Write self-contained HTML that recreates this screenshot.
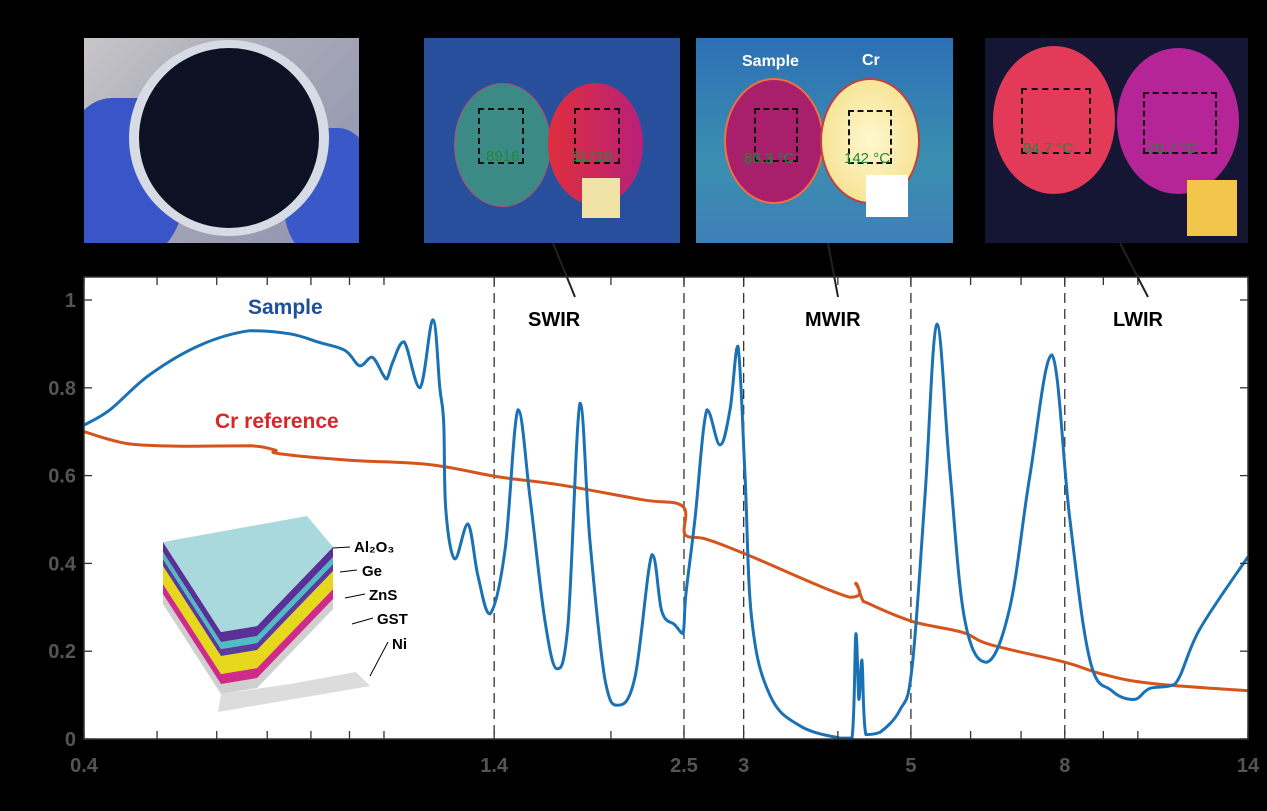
<!DOCTYPE html>
<html><head><meta charset="utf-8">
<style>
html,body{margin:0;padding:0;background:#000;}
#root{position:relative;width:1267px;height:811px;background:#000;overflow:hidden;font-family:"Liberation Sans",sans-serif;}
.ph{position:absolute;overflow:hidden;}
.circ{position:absolute;border-radius:50%;}
.box{position:absolute;border:2px dashed #111;}
.tmp{position:absolute;color:#1e8a3a;font-size:15px;}
</style></head>
<body>
<div id="root">
  <div class="ph" style="left:84px;top:38px;width:275px;height:205px;background:linear-gradient(135deg,#c8c6c8,#a9aab8 40%,#8e92ad);">
    <div style="position:absolute;left:-20px;top:60px;width:120px;height:160px;background:#3a55c8;border-radius:40%;"></div>
    <div style="position:absolute;left:200px;top:90px;width:90px;height:130px;background:#3b58c9;border-radius:40%;"></div>
    <div class="circ" style="left:45px;top:2px;width:200px;height:196px;background:#d6dbe4;"></div>
    <div class="circ" style="left:55px;top:10px;width:180px;height:180px;background:#0c1224;"></div>
  </div>
  <div class="ph" style="left:424px;top:38px;width:256px;height:205px;background:#284f9c;">
    <div class="circ" style="left:30px;top:45px;width:95px;height:122px;background:#3b8a86;border:1px solid #b05070;"></div>
    <div class="circ" style="left:124px;top:45px;width:95px;height:122px;background:linear-gradient(90deg,#e02e3c,#b8207a);"></div>
    <div class="box" style="left:54px;top:70px;width:42px;height:52px;"></div>
    <div class="box" style="left:150px;top:70px;width:42px;height:52px;"></div>
    <div class="tmp" style="left:62px;top:110px;">8916</div>
    <div class="tmp" style="left:148px;top:110px;">11710</div>
    <div style="position:absolute;left:158px;top:140px;width:38px;height:40px;background:#f1e2a6;"></div>
  </div>
  <div class="ph" style="left:696px;top:38px;width:257px;height:205px;background:linear-gradient(180deg,#2d6fb5,#3a8fb0 60%,#3f7fb8);">
    <div style="position:absolute;left:46px;top:15px;color:#fff;font-weight:bold;font-size:16px;">Sample</div>
    <div style="position:absolute;left:166px;top:14px;color:#fff;font-weight:bold;font-size:16px;">Cr</div>
    <div class="circ" style="left:28px;top:40px;width:96px;height:122px;background:#a8206c;border:2px solid #f07040;"></div>
    <div class="circ" style="left:124px;top:40px;width:96px;height:122px;background:radial-gradient(#fff8d0,#f4dc80);border:2px solid #c04040;"></div>
    <div class="box" style="left:58px;top:70px;width:40px;height:50px;"></div>
    <div class="box" style="left:152px;top:72px;width:40px;height:50px;"></div>
    <div class="tmp" style="left:48px;top:112px;">86.3 °C</div>
    <div class="tmp" style="left:148px;top:112px;">142 °C</div>
    <div style="position:absolute;left:170px;top:137px;width:42px;height:42px;background:#fff;"></div>
  </div>
  <div class="ph" style="left:985px;top:38px;width:263px;height:205px;background:#141633;">
    <div class="circ" style="left:8px;top:8px;width:122px;height:148px;background:#e23a58;"></div>
    <div class="circ" style="left:132px;top:10px;width:122px;height:146px;background:#b62598;"></div>
    <div class="box" style="left:36px;top:50px;width:66px;height:62px;"></div>
    <div class="box" style="left:158px;top:54px;width:70px;height:58px;"></div>
    <div class="tmp" style="left:38px;top:102px;">94.7 °C</div>
    <div class="tmp" style="left:162px;top:102px;">70.7 °C</div>
    <div style="position:absolute;left:202px;top:142px;width:50px;height:56px;background:#f2c64a;"></div>
  </div>
  <svg id="chart" width="1267" height="811" style="position:absolute;left:0;top:0;"></svg>
</div>
<script>
const sampleWl=[0.4,0.433,0.489,0.57,0.664,0.75,0.822,0.888,0.929,0.964,0.997,1.009,1.028,1.063,1.116,1.161,1.186,1.2,1.208,1.242,1.292,1.333,1.382,1.447,1.506,1.562,1.635,1.696,1.754,1.82,1.876,1.964,2.043,2.152,2.267,2.337,2.432,2.492,2.515,2.585,2.681,2.79,2.877,2.948,3.012,3.076,3.25,3.562,4.025,4.176,4.227,4.266,4.305,4.358,4.548,4.834,5.015,5.218,5.413,5.632,5.896,6.306,6.765,7.191,7.691,8.125,8.637,9.236,9.88,10.37,11.2,12.08,14];
const sampleVal=[0.715,0.75,0.83,0.897,0.93,0.923,0.903,0.885,0.85,0.87,0.83,0.82,0.86,0.905,0.80,0.955,0.80,0.72,0.52,0.41,0.49,0.37,0.285,0.43,0.75,0.55,0.27,0.16,0.26,0.765,0.45,0.135,0.077,0.14,0.42,0.29,0.26,0.24,0.33,0.5,0.75,0.67,0.75,0.895,0.6,0.27,0.1,0.03,0.002,0.002,0.24,0.09,0.18,0.01,0.015,0.066,0.16,0.55,0.945,0.61,0.27,0.175,0.3,0.6,0.875,0.5,0.18,0.11,0.09,0.115,0.125,0.25,0.415];
const crWl=[0.4,0.46,0.55,0.664,0.717,0.725,0.901,1.15,1.42,1.71,2.2,2.49,2.51,2.68,3.03,4.15,4.227,4.31,4.4,5.015,5.85,6.37,8.0,8.96,10.37,14];
const crVal=[0.70,0.672,0.667,0.668,0.658,0.65,0.635,0.625,0.597,0.579,0.545,0.53,0.465,0.455,0.42,0.323,0.355,0.318,0.308,0.268,0.243,0.215,0.175,0.148,0.127,0.11];
const xMajor=[0.4,1.4,2.5,3,5,8,14];
const xMinor=[0.5,0.6,0.7,0.8,0.9,1,2,4,6,7,9,10];
const yTicks=[0,0.2,0.4,0.6,0.8,1];
const bands=[1.4,2.5,3,5,8];

const NS='http://www.w3.org/2000/svg';
const svg=document.getElementById('chart');
const PL=84,PR=1248,PT=277,PB=739,Y0=739,Y1=300;
const xs=v=>PL+(Math.log(v/0.4)/Math.log(35))*(PR-PL);
const ys=v=>Y0-v*(Y0-Y1);
function mk(tag,a){const e=document.createElementNS(NS,tag);for(const k in a)e.setAttribute(k,a[k]);svg.appendChild(e);return e;}

const bg=mk('rect',{x:PL,y:PT,width:PR-PL,height:PB-PT,fill:'#fff'});



bands.forEach(b=>{const l=mk('line',{x1:xs(b),x2:xs(b),y1:PT,y2:PB,stroke:'#333','stroke-width':1.3,'stroke-dasharray':'10,6'});

});

[[553,243,575,297],[828,243,838,297],[1120,243,1148,297]].forEach(c=>{const l=mk('line',{x1:c[0],y1:c[1],x2:c[2],y2:c[3],stroke:'#222','stroke-width':2});

});

const P=[[163,542],[221,632],[257,626],[333,547]];
const layers=[[50,62,'#cfcfcf'],[42,52,'#d02a8a'],[24,42,'#e6d81c'],[17,24,'#5a3a9a'],[10,17,'#4fbcc4'],[0,10,'#5a2f96']];
const ni=mk('polygon',{points:'218,712 370,686 356,672 290,684 221,694',fill:'#dcdcdc'});


layers.forEach(ly=>{const pts=P.map(p=>[p[0],p[1]+ly[0]]).concat(P.slice().reverse().map(p=>[p[0],p[1]+ly[1]]));
const pg=mk('polygon',{points:pts.map(p=>p.join(',')).join(' '),fill:ly[2]});

});
const topFace=mk('polygon',{points:'163,542 307,516 333,547 257,626 221,632',fill:'#a9d9dd'});


[['Al₂O₃',354,552],['Ge',362,576],['ZnS',369,600],['GST',377,624],['Ni',392,649]].forEach(t=>{const e=mk('text',{x:t[1],y:t[2],'font-size':15,'font-weight':'bold',fill:'#000','font-family':'Liberation Sans'});e.textContent=t[0];

});
[[333,548,350,547],[340,572,357,570],[345,598,365,594],[352,624,373,618],[370,676,388,642]].forEach(c=>{const l=mk('line',{x1:c[0],y1:c[1],x2:c[2],y2:c[3],stroke:'#000','stroke-width':1});

});

function drawLine(wl,val,color,name){
  const pts=wl.map((w,i)=>[xs(w),ys(val[i])]);
  let d='M'+pts[0][0].toFixed(1)+','+pts[0][1].toFixed(1);
  const cl=(v,a,b)=>Math.max(Math.min(a,b),Math.min(Math.max(a,b),v));
  for(let i=0;i<pts.length-1;i++){
    const p0=pts[Math.max(0,i-1)],p1=pts[i],p2=pts[i+1],p3=pts[Math.min(pts.length-1,i+2)];
    const t=0.18;
    const c1=[p1[0]+(p2[0]-p0[0])*t,cl(p1[1]+(p2[1]-p0[1])*t,p1[1],p2[1])];
    const c2=[p2[0]-(p3[0]-p1[0])*t,cl(p2[1]-(p3[1]-p1[1])*t,p1[1],p2[1])];
    d+='C'+c1[0].toFixed(1)+','+c1[1].toFixed(1)+' '+c2[0].toFixed(1)+','+c2[1].toFixed(1)+' '+p2[0].toFixed(1)+','+p2[1].toFixed(1);
  }
  const p=mk('path',{d:d,fill:'none',stroke:color,'stroke-width':3,'stroke-linejoin':'round'});
  
  }
drawLine(crWl,crVal,'#d5541c','cr-reference-line');
drawLine(sampleWl,sampleVal,'#1a72b5','sample-line');

const fr=mk('rect',{x:PL,y:PT,width:PR-PL,height:PB-PT,fill:'none',stroke:'#333','stroke-width':1.5});



xMajor.concat(xMinor).forEach(v=>{[[PB,PB-8],[PT,PT+8]].forEach(s=>{const l=mk('line',{x1:xs(v),x2:xs(v),y1:s[0],y2:s[1],stroke:'#333','stroke-width':1.3});

});});
xMajor.forEach(v=>{const t=mk('text',{x:xs(v),y:772,'text-anchor':'middle','font-size':20,'font-weight':'bold',fill:'#555','font-family':'Liberation Sans'});t.textContent=String(v);

});
yTicks.forEach(v=>{[[PL,PL+8],[PR,PR-8]].forEach(s=>{const l=mk('line',{x1:s[0],x2:s[1],y1:ys(v),y2:ys(v),stroke:'#333','stroke-width':1.3});

});
const t=mk('text',{x:76,y:ys(v)+7,'text-anchor':'end','font-size':20,'font-weight':'bold',fill:'#555','font-family':'Liberation Sans'});t.textContent=String(v);

});

[['Sample',248,314,'#1f4e9a',21,'sample-label'],['Cr reference',215,428,'#d9262a',21,'cr-reference-label'],['SWIR',528,326,'#000',20,'swir-label'],['MWIR',805,326,'#000',20,'mwir-label'],['LWIR',1113,326,'#000',20,'lwir-label']].forEach(t=>{const e=mk('text',{x:t[1],y:t[2],'font-size':t[4],'font-weight':'bold',fill:t[3],'font-family':'Liberation Sans'});e.textContent=t[0];

});
</script>
</body></html>
